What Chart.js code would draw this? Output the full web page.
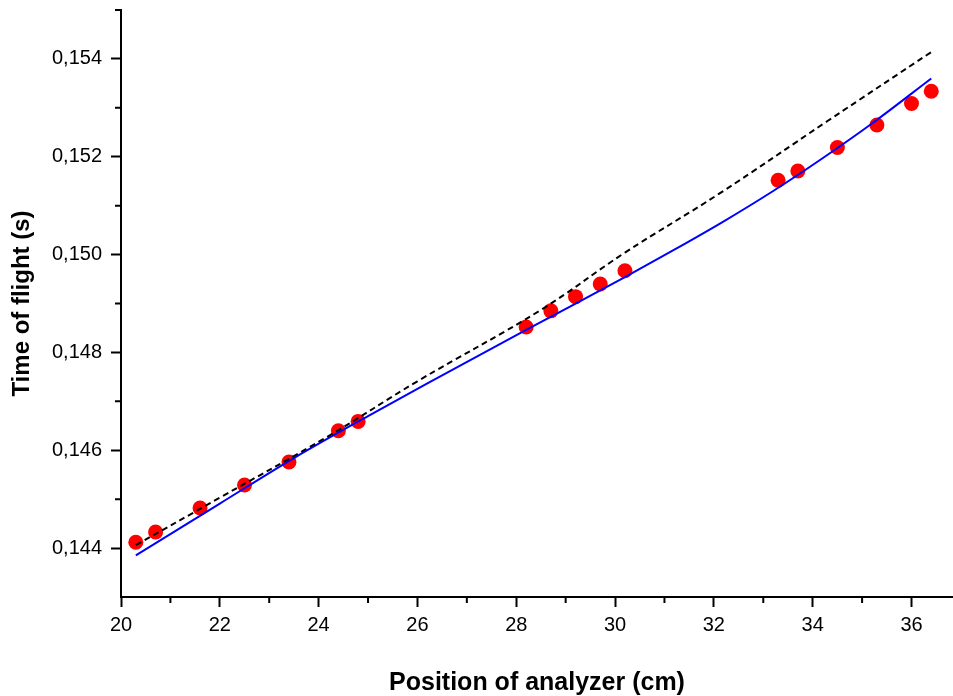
<!DOCTYPE html>
<html>
<head>
<meta charset="utf-8">
<script src="https://cdn.jsdelivr.net/npm/chart.js@4/dist/chart.umd.min.js"></script>
<style>
	body{margin:0;background:#fff;}
	.chartholder{width:953px;height:696px;position:relative;}
</style>
</head>
<body>
<div class="chartholder">
	<canvas id="myChart"></canvas>
</div>
<script>
// measured points
const positions=[20.3,20.7,21.6,22.5,23.4,24.4,24.8,28.2,28.7,29.2,29.7,30.2,33.3,33.7,34.5,35.3,36.0,36.4]
const flighttimes=[0.14412,0.14433,0.14482,0.14529,0.14576,0.14640,0.14659,0.14852,0.14885,0.14914,0.14940,0.14967,0.15152,0.15171,0.15219,0.15265,0.15309,0.15334]
// blue fit
const fitx=[20.3,22,23.5,25,26.5,28.2,30.2,31.2,32.2,33.2,34.2,35.2,36.4]
const fity=[0.14385,0.14491,0.14584,0.14670,0.14753,0.14846,0.14954,0.15010,0.15068,0.15130,0.15197,0.15268,0.15360]
// dashed curve
const dashx=[20.3,22,24.2,26,28.5,30.2,32.1,34.3,36.4]
const dashy=[0.14406,0.14503,0.14629,0.14741,0.14887,0.15004,0.15124,0.15273,0.15414]
// ticks
const xticks=[20,22,24,26,28,30,32,34,36]
const xminor=[21,23,25,27,29,31,33,35]
const yticks=[0.144,0.146,0.148,0.150,0.152,0.154]
const yminor=[0.145,0.147,0.149,0.151,0.153,0.155]

const fontfamily="'Liberation Sans', Arial, sans-serif"

function pairs(xs,ys){
	let out=[]
	for(let i=0;i<xs.length;i++){
		out.push({x:xs[i],y:ys[i]})
	}
	return out
}

const minorticks={
	id:"minorticks",
	afterDraw(chart){
		const ctx=chart.ctx
		const xs=chart.scales.x
		const ys=chart.scales.y
		ctx.save()
		ctx.strokeStyle="#000"
		ctx.lineWidth=2
		ctx.beginPath()
		xminor.forEach(v=>{
			let px=xs.getPixelForValue(v)
			ctx.moveTo(px,xs.top)
			ctx.lineTo(px,xs.top+6)
		})
		yminor.forEach(v=>{
			let py=ys.getPixelForValue(v)
			ctx.moveTo(ys.right,py)
			ctx.lineTo(ys.right-6,py)
		})
		ctx.stroke()
		ctx.restore()
	}
}

var ctx=document.getElementById("myChart")
var myChart=new Chart(ctx,{
	type:"scatter",
	data:{
		datasets:[
			{
				type:"line",
				data:pairs(dashx,dashy),
				borderColor:"#000",
				borderWidth:2,
				borderDash:[6,4],
				pointRadius:0,
				fill:false,
				tension:0.4,
			},
			{
				type:"line",
				data:pairs(fitx,fity),
				borderColor:"#0000ff",
				borderWidth:2,
				pointRadius:0,
				fill:false,
				cubicInterpolationMode:"monotone",
			},
			{
				data:pairs(positions,flighttimes),
				backgroundColor:"#ff0000",
				borderWidth:0,
				pointRadius:7.5,
			},
		]
	},
	options:{
		responsive:true,
		maintainAspectRatio:false,
		animation:false,
		layout:{autoPadding:false,padding:{top:10,right:0,bottom:0,left:0}},
		plugins:{
			legend:{display:false},
			tooltip:{enabled:false},
		},
		scales:{
			x:{
				type:"linear",
				min:20,
				max:36.84,
				afterBuildTicks:(scale)=>{scale.ticks=xticks.map(v=>({value:v}))},
				afterFit:(scale)=>{
					scale.height=99
					scale.paddingLeft=0
					scale.paddingRight=0
				},
				border:{display:true,color:"#000",width:2},
				grid:{drawOnChartArea:false,drawTicks:true,tickLength:10,tickColor:"#000",tickWidth:2},
				ticks:{
					color:"#000",
					padding:8,
					font:{family:fontfamily,size:20,lineHeight:1},
					callback:(v)=>String(v),
				},
				title:{
					display:true,
					text:"Position of analyzer (cm)",
					color:"#000",
					font:{family:fontfamily,size:25,weight:"bold",lineHeight:1},
					padding:{top:29,bottom:0},
				},
			},
			y:{
				type:"linear",
				min:0.143,
				max:0.155,
				afterBuildTicks:(scale)=>{scale.ticks=yticks.map(v=>({value:v}))},
				afterFit:(scale)=>{
					scale.width=121
					scale.paddingTop=0
					scale.paddingBottom=0
				},
				border:{display:true,color:"#000",width:2},
				grid:{drawOnChartArea:false,drawTicks:true,tickLength:10,tickColor:"#000",tickWidth:2},
				ticks:{
					color:"#000",
					padding:9,
					font:{family:fontfamily,size:20,lineHeight:1},
					callback:(v)=>v.toFixed(3).replace(".",","),
				},
				title:{
					display:true,
					text:"Time of flight (s)",
					color:"#000",
					font:{family:fontfamily,size:24,weight:"bold",lineHeight:1},
					padding:{top:10,bottom:9},
				},
			},
		},
	},
	plugins:[minorticks],
})
</script>
</body>
</html>
